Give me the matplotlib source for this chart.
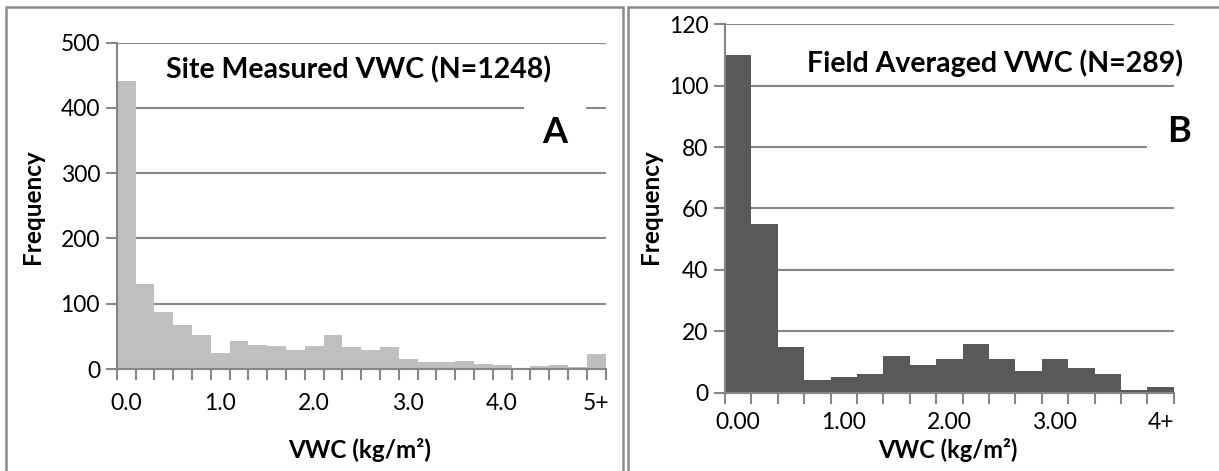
"""
VWC 频数分布直方图 (A: 站点测量, B: 田块平均)
"""

import numpy as np
import matplotlib
matplotlib.use('Agg')
from matplotlib import pyplot as plt
from matplotlib.patches import Rectangle

plt.rcParams['font.family'] = ['Lato', 'DejaVu Sans']

# A: 站点测量 VWC, 0.2 间隔, 最后一组为 5+
a_counts = [442, 130, 88, 67, 52, 25, 43, 37, 36, 29, 36, 52, 34,
            29, 34, 15, 10, 10, 12, 7, 6, 2, 4, 6, 3, 23]
a_labels = ['0.0', '1.0', '2.0', '3.0', '4.0', '5+']
a_title = 'Site Measured VWC (N=1248)'

# B: 田块平均 VWC, 0.25 间隔, 最后一组为 4+
b_counts = [110, 55, 15, 4, 5, 6, 12, 9, 11, 16, 11, 7, 11, 8, 6, 1, 2]
b_labels = ['0.00', '1.00', '2.00', '3.00', '4+']
b_title = 'Field Averaged VWC (N=289)'

W, H = 1219, 471
GRID = '#868686'


def px(x0, y0, x1, y1):
    """像素坐标 -> figure 坐标 [left, bottom, width, height]"""
    return [x0 / W, 1 - y1 / H, (x1 - x0) / W, (y1 - y0) / H]


def hist_panel(ax, counts, labels, step, ymax, ystep, color, lab_pad):
    n = len(counts)
    idx = np.arange(n)
    ax.bar(idx + 0.5, counts, width=1.0, color=color, edgecolor='none', zorder=2)
    ax.set_xlim(0, n)
    ax.set_ylim(0, ymax)
    ax.set_yticks(np.arange(0, ymax + 1, ystep))
    ax.yaxis.grid(True, color=GRID, lw=1.5, zorder=1)
    ax.set_axisbelow(True)
    ax.set_xticks(np.arange(n + 1))
    ax.set_xticklabels([])
    ax.set_xticks(idx[::step] + 0.5, labels, minor=True)
    ax.tick_params(axis='x', which='major', length=8, width=1.5, color=GRID)
    ax.tick_params(axis='x', which='minor', length=0, pad=lab_pad, labelsize=16.5)
    ax.tick_params(axis='y', length=8, width=1.5, color=GRID, pad=4, labelsize=16.5)
    for s in ['top', 'right']:
        ax.spines[s].set_visible(False)
    for s in ['left', 'bottom']:
        ax.spines[s].set_color(GRID)
        ax.spines[s].set_linewidth(1.5)
    ax.spines['bottom'].set_zorder(3)


fig = plt.figure(figsize=(W / 100, H / 100), dpi=100)

# 外框 (Excel 图表区)
fig.patches.append(Rectangle((5.5 / W, -0.1), (623 - 5.5) / W, 1.1 - 7 / H,
                             transform=fig.transFigure, fill=False,
                             edgecolor='#8c8c8c', lw=1.8))
fig.patches.append(Rectangle((628 / W, -0.1), 0.6, 1.1 - 7 / H,
                             transform=fig.transFigure, fill=False,
                             edgecolor='#8c8c8c', lw=1.8))

ax1 = fig.add_axes(px(116.7, 42.7, 605.5, 369))
hist_panel(ax1, a_counts, a_labels, 5, 500, 100, '#bfbfbf', 17)
ax2 = fig.add_axes(px(725, 24.3, 1173.7, 392.7))
hist_panel(ax2, b_counts, b_labels, 4, 120, 20, '#595959', 14)

bold = dict(fontweight='bold', color='black')
fig.text(359 / W, 1 - 70 / H, a_title, fontsize=20.5, ha='center', va='center', **bold)
fig.text(555 / W, 1 - 133 / H, 'A', fontsize=26, ha='center', va='center',
         bbox=dict(facecolor='white', edgecolor='none', boxstyle='square,pad=0.5'), **bold)
fig.text(995 / W, 1 - 63 / H, b_title, fontsize=20.5, ha='center', va='center', **bold)
fig.text(1179 / W, 1 - 132 / H, 'B', fontsize=26, ha='center', va='center',
         bbox=dict(facecolor='white', edgecolor='none', boxstyle='square,pad=0.55'), **bold)

fig.text(32 / W, 1 - 207 / H, 'Frequency', fontsize=17.5, rotation=90,
         ha='center', va='center', **bold)
fig.text(651 / W, 1 - 207 / H, 'Frequency', fontsize=17.5, rotation=90,
         ha='center', va='center', **bold)
fig.text(360 / W, 1 - 450 / H, 'VWC (kg/m²)', fontsize=17.5, ha='center', va='center', **bold)
fig.text(948 / W, 1 - 450 / H, 'VWC (kg/m²)', fontsize=17, ha='center', va='center', **bold)

plt.savefig('out.png', dpi=100)
